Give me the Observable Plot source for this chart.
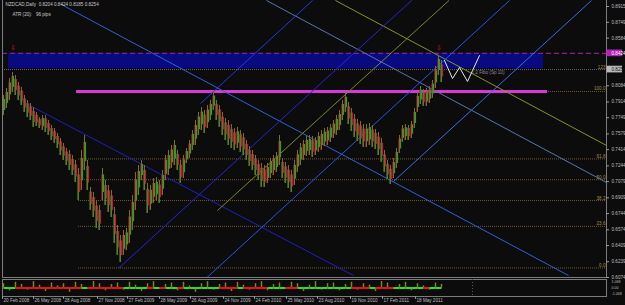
<!DOCTYPE html>
<html><head><meta charset="utf-8">
<script src="https://cdn.jsdelivr.net/npm/d3@7"></script>
<script src="https://cdn.jsdelivr.net/npm/@observablehq/plot@0.6"></script>
<style>
html,body{margin:0;padding:0;background:#0c0c0c;}
#wrap{position:relative;width:625px;height:305px;overflow:hidden;background:#0c0c0c;}
#wrap svg{position:absolute;left:0;}
</style></head><body><div id="wrap"></div>
<script>
// ---------- DATA ----------
// price samples (every 6 daily bars), high and low
const priceHigh = [0.7982,0.8056,0.8160,0.8223,0.8192,0.8118,0.8066,0.7982,0.7930,0.7898,0.7856,0.7804,0.7751,0.7772,0.7772,0.7720,0.7668,0.7636,0.7584,0.7531,0.7479,0.7426,0.7406,0.7353,0.7301,0.7217,0.7406,0.7563,0.7301,0.7018,0.6965,0.6881,0.6829,0.7217,0.7091,0.7039,0.6986,0.6808,0.6619,0.6515,0.6567,0.6588,0.6777,0.6934,0.7175,0.7248,0.7301,0.7248,0.7060,0.7039,0.7112,0.7122,0.7091,0.7196,0.7353,0.7406,0.7458,0.7510,0.7406,0.7301,0.7353,0.7426,0.7510,0.7615,0.7720,0.7804,0.7856,0.7825,0.7877,0.7930,0.8014,0.7930,0.7877,0.7804,0.7741,0.7720,0.7678,0.7636,0.7647,0.7615,0.7584,0.7510,0.7447,0.7406,0.7353,0.7301,0.7269,0.7248,0.7269,0.7322,0.7353,0.7385,0.7563,0.7322,0.7280,0.7248,0.7196,0.7301,0.7406,0.7479,0.7510,0.7552,0.7563,0.7552,0.7542,0.7594,0.7615,0.7636,0.7647,0.7678,0.7720,0.7772,0.7825,0.7930,0.8003,0.7909,0.7846,0.7783,0.7731,0.7710,0.7678,0.7678,0.7689,0.7668,0.7626,0.7594,0.7531,0.7406,0.7301,0.7248,0.7322,0.7426,0.7563,0.7668,0.7678,0.7668,0.7710,0.7846,0.8014,0.8076,0.8045,0.8056,0.8076,0.8139,0.8286,0.8401,0.8349];
const priceLow  = [0.7772,0.7846,0.7930,0.8014,0.7982,0.7930,0.7877,0.7804,0.7751,0.7720,0.7647,0.7657,0.7636,0.7615,0.7594,0.7563,0.7510,0.7479,0.7426,0.7353,0.7301,0.7248,0.7196,0.7143,0.7070,0.6881,0.6986,0.7196,0.6986,0.6777,0.6703,0.6588,0.6567,0.6881,0.6829,0.6756,0.6703,0.6431,0.6305,0.6231,0.6305,0.6357,0.6431,0.6567,0.6777,0.6934,0.7091,0.6986,0.6745,0.6777,0.6850,0.6881,0.6850,0.6934,0.7091,0.7143,0.7217,0.7248,0.7196,0.7060,0.7112,0.7269,0.7322,0.7406,0.7458,0.7563,0.7615,0.7584,0.7636,0.7720,0.7825,0.7720,0.7647,0.7563,0.7510,0.7458,0.7426,0.7406,0.7426,0.7385,0.7353,0.7301,0.7238,0.7196,0.7143,0.7091,0.7018,0.7018,0.7060,0.7112,0.7143,0.7175,0.7248,0.7112,0.7060,0.7007,0.6965,0.7039,0.7175,0.7248,0.7301,0.7343,0.7353,0.7332,0.7353,0.7385,0.7406,0.7447,0.7458,0.7489,0.7531,0.7563,0.7615,0.7720,0.7804,0.7678,0.7605,0.7542,0.7500,0.7468,0.7437,0.7437,0.7458,0.7437,0.7416,0.7353,0.7280,0.7175,0.7102,0.7049,0.7112,0.7217,0.7374,0.7489,0.7510,0.7510,0.7531,0.7636,0.7804,0.7888,0.7867,0.7867,0.7898,0.7951,0.8056,0.8192,0.8118];
const firstBar = 2, barsPerSample = 6;

// indicator histogram (one value per two price samples)
const indicator = [0.6,-0.4,0.8,0.5,-0.3,0.9,0.4,-0.5,0.7,0.3,0.6,-0.6,0.8,0.5,-0.2,0.9,0.6,-0.4,0.5,0.7,-0.3,0.8,0.4,-0.5,0.6,0.9,-0.2,0.5,0.7,-0.4,0.8,0.3,-0.6,0.6,0.9,-0.3,0.5,0.7,-0.5,0.8,0.4,-0.3,0.6,0.9,-0.4,0.5,0.7,-0.2,0.8,0.6,-0.5,0.4,0.9,-0.3,0.6,0.7,-0.4,0.5,0.8,-0.3,0.6,0.4,-0.5,0.9,0.7,-0.2,0.5,0.8,-0.4,0.6,0.3,-0.3,0.7,0.5];
const indicatorLabels = ["1.068", "0.00", "-1.068"];
const indicatorLabelValues = [0.85, 0, -0.85];

// price axis labels
const yTicks = [0.8915,0.8749,0.8584,0.8084,0.7914,0.7749,0.7579,0.7414,0.7244,0.7079,0.6909,0.6744,0.6574,0.6409,0.6239,0.6074];
const zoneTop = 0.8424, zoneBottom = 0.8262, zoneBar1 = 12, zoneBar2 = 1082;
const bidPrice = 0.8254, bidLabel = "123";
const supportLevel = 0.8024, supportBar1 = 148, supportBar2 = 1090;

// fibonacci retracement
const fibLow = 0.6174, fibHigh = 0.8024, fibBar1 = 152, fibBar2 = 1208;
const fibLevels = [0, 23.6, 38.2, 50.0, 61.8, 100.0];
const fibLabels = ["0.0", "23.6", "38.2", "50.0", "61.8", "100.0"];

// trend lines: [bar1, price1, bar2, price2]
const lineNames = ["fanA", "fanB", "fanC", "fanD", "riseA", "riseB", "riseC", "riseD", "riseE"];
const lineBar1   = [116, 32, 528, 666, 232, 409, 782, 430, 396];
const linePrice1 = [0.8941, 0.7940, 0.8978, 0.8978, 0.6169, 0.6074, 0.7081, 0.6776, 0.7898];
const lineBar2   = [1132, 702, 1208, 1208, 818, 1014, 1178, 893, 620];
const linePrice2 = [0.6095, 0.6095, 0.7070, 0.7458, 0.8978, 0.8978, 0.8978, 0.8978, 0.8978];

// projection (white zigzag)
const projBars = [884, 900, 914, 930, 954];
const projPrices = [0.8349, 0.8160, 0.8276, 0.8129, 0.8401];

// arrows
const arrowBars = [20, 872];
const arrowPrices = [0.8485, 0.8485];

// date axis
const dateBars = [0, 62, 122, 190, 250, 314, 376, 442, 504, 568, 630, 696, 760, 826];
const dateLabels = ["20 Feb 2008","26 May 2008","28 Aug 2008","27 Nov 2008","27 Feb 2009","28 May 2009","26 Aug 2009","24 Nov 2009","24 Feb 2010","25 May 2010","23 Aug 2010","19 Nov 2010","17 Feb 2011","18 May 2011"];

const titleText = "NZDCAD,Daily  0.8204 0.8424 0.8185 0.8254";
const atrText = "ATR (20):   96 pips";
const projText = "1:2 Fibo (Sp 10)";

// ---------- STYLES ----------
const lineStyle = {
  fanA:  {stroke: "#3162d4", dash: "2,2"},
  fanB:  {stroke: "#1f1fc4", dash: "1,1"},
  fanC:  {stroke: "#5a76ac", dash: "3,2"},
  fanD:  {stroke: "#84942a", dash: "3,3"},
  riseA: {stroke: "#2626d2", dash: "1,1"},
  riseB: {stroke: "#2a55d8", dash: "1,1"},
  riseC: {stroke: "#3a6ed8", dash: "2,2"},
  riseD: {stroke: "#7a8826", dash: "2,4"},
  riseE: {stroke: "#2a3ad0", dash: "1,1"}
};
const FONT = "Liberation Sans, Arial, sans-serif";
const FS = "4.6px";

// ---------- BUILD ----------
const candles = priceHigh.map((h, i) => {
  const l = priceLow[i];
  const prevMid = i ? (priceHigh[i-1] + priceLow[i-1]) / 2 : (h + l) / 2;
  const up = (h + l) / 2 >= prevMid;
  return {bar: firstBar + i * barsPerSample, high: h, low: l,
          bodyTop: h - (h - l) * 0.2, bodyBot: l + (h - l) * 0.25, up};
});
const lines = lineNames.map((n, i) => ({name: n, b1: lineBar1[i], p1: linePrice1[i], b2: lineBar2[i], p2: linePrice2[i]}));
const fibs = fibLevels.map((lv, i) => ({level: lv, label: fibLabels[i], price: fibLow + (fibHigh - fibLow) * lv / 100}));
const proj = projBars.map((b, i) => ({bar: b, price: projPrices[i]}));

const wrap = document.getElementById("wrap");

const main = Plot.plot({
  width: 625, height: 278,
  marginLeft: 2, marginRight: 19, marginTop: 0, marginBottom: 1,
  style: {background: "transparent", fontFamily: FONT, fontSize: FS, color: "#c0c0c0", overflow: "visible"},
  x: {domain: [0, 1208], axis: null},
  y: {domain: [0.6074, 0.8978], axis: null},
  marks: [
    Plot.rect([{}], {x1: zoneBar1, x2: zoneBar2, y1: zoneBottom, y2: zoneTop, fill: "#0a0a80"}),
    Plot.ruleY(fibs, {y: "price", x1: fibBar1, x2: fibBar2, stroke: "#6e5828", strokeDasharray: "1,1"}),
    Plot.text(fibs, {x: 1206, y: "price", text: "label", textAnchor: "end", dy: -2.5, fill: "#a58a4a", fontSize: FS}),
    Plot.ruleY([bidPrice], {stroke: "#6c5f6e", strokeDasharray: "1,1"}),
    Plot.text([bidLabel], {x: 1206, y: bidPrice, text: d => d, textAnchor: "end", dy: -2.5, fill: "#a58a4a", fontSize: FS}),
    Plot.ruleY([supportLevel], {x1: supportBar1, x2: supportBar2, stroke: "#d838d8", strokeWidth: 3}),
    Plot.ruleY([zoneTop], {stroke: "#84208c", strokeWidth: 1.3, strokeDasharray: "5,3"}),
    Plot.link(lines, {x1: "b1", y1: "p1", x2: "b2", y2: "p2",
      stroke: d => lineStyle[d.name].stroke, strokeDasharray: d => lineStyle[d.name].dash, strokeWidth: 1}),
    Plot.ruleX(candles, {x: "bar", y1: "low", y2: "high", stroke: "#76702a", strokeWidth: 1}),
    Plot.ruleX(candles, {x: "bar", y1: "bodyBot", y2: "bodyTop", dx: 1,
      stroke: d => d.up ? "#22a626" : "#c2143c", strokeWidth: 1.2}),
    Plot.ruleX(candles, {x: "bar", y1: "low", y2: "bodyTop", dx: -1,
      stroke: d => d.up ? "#b0143a" : "#2c8c22", strokeWidth: 0.8, strokeOpacity: 0.8}),
    Plot.line(proj, {x: "bar", y: "price", stroke: "#e8e8e8", strokeWidth: 1}),
    Plot.text([projText], {x: 938, y: 0.8223, text: d => d, textAnchor: "start", fill: "#8c8c8c", fontSize: FS}),
    Plot.text(arrowBars.map((b, i) => ({bar: b, price: arrowPrices[i]})), {x: "bar", y: "price", text: () => "⇩", fill: "#d41414", fontSize: "7px"}),
    Plot.ruleX([0, 1208], {stroke: "#7c7c7c"}),
    Plot.ruleY([0.6074], {stroke: "#7c7c7c"}),
    Plot.ruleY(yTicks, {x1: 1208, x2: 1214, stroke: "#9a9a9a"}),
    Plot.text(yTicks, {x: 1208, y: d => d, text: d => d.toFixed(4), dx: 5, textAnchor: "start", fill: "#bdbdbd", fontSize: FS}),
    Plot.rect([zoneTop], {x1: 1209, x2: 1240, y1: d => d - 0.0035, y2: d => d + 0.0035, fill: "#b424b4"}),
    Plot.text([zoneTop], {x: 1208, y: d => d, text: d => d.toFixed(4), dx: 5, textAnchor: "start", fill: "#ffffff", fontSize: FS}),
    Plot.rect([bidPrice], {x1: 1209, x2: 1240, y1: d => d - 0.0035, y2: d => d + 0.0035, fill: "#b8b8b8"}),
    Plot.text([bidPrice], {x: 1208, y: d => d, text: d => d.toFixed(4), dx: 5, textAnchor: "start", fill: "#111111", fontSize: FS}),
    Plot.text([titleText], {frameAnchor: "top-left", dx: 3, dy: 2, text: d => d, fill: "#c8c8c8", fontSize: FS}),
    Plot.text([atrText], {frameAnchor: "top-left", dx: 10, dy: 12, text: d => d, fill: "#c8c8c8", fontSize: FS})
  ]
});
main.style.top = "0px";
wrap.appendChild(main);

const indData = indicator.map((v, i) => {
  const c = candles[Math.min(i * 2, candles.length - 1)];
  return {bar: firstBar + i * barsPerSample * 2, v, up: c.up};
});
const indSegs = indData.slice(0, -1).map((d, i) => ({b1: d.bar, b2: indData[i+1].bar, up: d.up}));

const sub = Plot.plot({
  width: 625, height: 27,
  marginLeft: 2, marginRight: 19, marginTop: 1, marginBottom: 9,
  style: {background: "transparent", fontFamily: FONT, fontSize: FS, color: "#c0c0c0", overflow: "visible"},
  x: {domain: [0, 1208], axis: null},
  y: {domain: [-1.2, 1.2], axis: null},
  marks: [
    Plot.frame({stroke: "#7c7c7c"}),
    Plot.ruleX([940], {stroke: "#4e5a66", strokeDasharray: "1,2"}),
    Plot.ruleX(indData, {x: "bar", y1: 0, y2: "v", stroke: "#8a7f26", strokeWidth: 1.5}),
    Plot.link(indSegs, {x1: "b1", x2: "b2", y1: 0, y2: 0, stroke: d => d.up ? "#33dd22" : "#ee1111", strokeWidth: 2}),
    Plot.text(indicatorLabels, {x: 1208, y: (d, i) => indicatorLabelValues[i], text: d => d, dx: 5, textAnchor: "start", fill: "#bdbdbd", fontSize: "3.6px"}),
    Plot.ruleX(dateBars, {y1: -1.2, y2: -1.6, stroke: "#9a9a9a"}),
    Plot.text(dateBars.map((b, i) => ({bar: b, label: dateLabels[i]})), {x: "bar", y: -1.2, text: "label", lineAnchor: "top", dy: 2, dx: 1, textAnchor: "start", fill: "#bdbdbd", fontSize: FS})
  ]
});
sub.style.top = "278px";
wrap.appendChild(sub);
</script></body></html>
